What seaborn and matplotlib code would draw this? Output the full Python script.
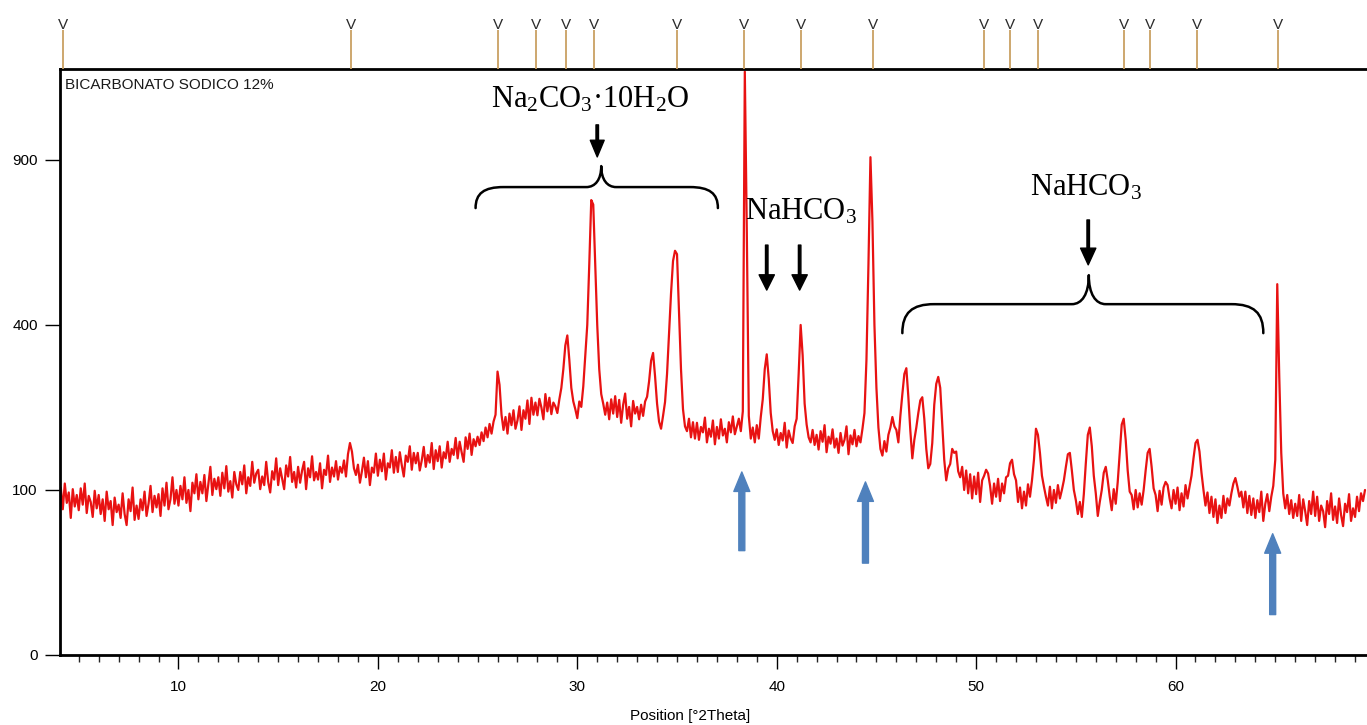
import numpy as np
import pandas as pd
import matplotlib
matplotlib.use("Agg")
import matplotlib.pyplot as plt
import seaborn as sns
from matplotlib.path import Path
from matplotlib.patches import PathPatch, FancyArrowPatch
from matplotlib.transforms import IdentityTransform
from matplotlib.ticker import MultipleLocator, FixedLocator

sns.set_style("white")
plt.rcParams['font.family'] = ['Liberation Sans', 'DejaVu Sans']
plt.rcParams['mathtext.fontset'] = 'custom'
plt.rcParams['mathtext.rm'] = 'Liberation Serif'
plt.rcParams['mathtext.it'] = 'Liberation Serif:italic'
plt.rcParams['mathtext.bf'] = 'Liberation Serif:bold'

# ---------------- data ----------------
theta_first, theta_last = 4.1, 69.5          # 0.1 deg sampling

counts_04_20 = [
    103, 78, 108, 85, 97, 69, 101, 81, 94,
    77, 102, 83, 108, 74, 93, 86, 70, 99, 79,
    94, 73, 89, 66, 98, 78, 87, 62, 91, 75,
    83, 69, 96, 73, 62, 89, 76, 103, 67, 82,
    68, 89, 77, 98, 71, 84, 105, 75, 93, 80,
    95, 71, 102, 82, 109, 78, 89, 116, 84, 100,
    82, 105, 89, 116, 85, 100, 76, 109, 96, 120,
    89, 110, 96, 119, 87, 107, 130, 94, 114, 101,
    116, 93, 122, 102, 131, 98, 111, 91, 123, 107,
    100, 123, 107, 132, 96, 116, 105, 137, 109, 121,
    126, 101, 117, 106, 137, 110, 97, 124, 113, 142,
    106, 128, 114, 101, 132, 117, 144, 110, 123, 103,
    130, 109, 125, 137, 101, 128, 116, 145, 112, 123,
    113, 135, 102, 126, 119, 146, 110, 129, 117, 138,
    113, 130, 122, 139, 117, 148, 165, 152, 128, 119,
    133, 109, 124, 143, 116, 138, 106, 129, 122, 149,
]
counts_20_40 = [
    118, 140, 124, 149, 113, 135, 129, 154, 122, 144,
    123, 151, 132, 117, 146, 137, 160, 126, 150, 135,
    150, 125, 139, 159, 130, 147, 136, 165, 127, 154,
    138, 160, 129, 151, 142, 167, 137, 156, 147, 173,
    142, 167, 151, 137, 174, 156, 180, 147, 171, 160,
    175, 162, 182, 168, 190, 174, 196, 180, 200, 212,
    295, 268, 212, 186, 208, 180, 214, 194, 220, 188,
    202, 227, 186, 220, 205, 238, 196, 243, 212, 234,
    211, 241, 225, 204, 250, 218, 243, 213, 234, 227,
    215, 240, 262, 300, 352, 375, 320, 262, 236, 222,
    206, 236, 226, 265, 330, 400, 560, 760, 745, 560,
    400, 300, 250, 232, 212, 234, 204, 240, 214, 246,
    208, 239, 198, 230, 251, 205, 226, 192, 237, 214,
    226, 204, 230, 210, 236, 245, 275, 318, 335, 285,
    232, 200, 188, 210, 235, 290, 380, 480, 570, 600,
    590, 430, 300, 222, 192, 184, 205, 174, 199, 172,
    198, 170, 191, 182, 207, 166, 188, 175, 202, 163,
    191, 172, 204, 177, 188, 166, 199, 182, 209, 179,
    192, 205, 184, 218, 1250, 660, 210, 172, 190, 166,
    194, 172, 208, 240, 300, 332, 280, 215, 184, 170,
]
counts_40_55 = [
    187, 162, 181, 169, 198, 158, 185, 172, 165, 192,
    205, 290, 400, 330, 232, 195, 174, 166, 186, 162,
    178, 155, 184, 167, 194, 151, 175, 164, 187, 158,
    172, 150, 181, 161, 170, 192, 148, 177, 163, 186,
    160, 176, 166, 188, 215, 320, 560, 910, 690, 400,
    262, 190, 156, 146, 168, 152, 178, 190, 208, 192,
    186, 166, 210, 250, 290, 302, 245, 185, 142, 170,
    190, 215, 238, 244, 205, 156, 128, 134, 165, 230,
    270, 284, 262, 195, 140, 112, 128, 134, 156, 150,
    152, 124, 116, 130, 100, 125, 96, 120, 90, 117,
    95, 122, 86, 112, 118, 126, 121, 105, 84, 108,
    92, 114, 87, 108, 96, 116, 118, 135, 140, 120,
    112, 86, 103, 79, 98, 82, 107, 92, 112, 140,
    188, 178, 150, 118, 104, 92, 82, 104, 79, 100,
    85, 106, 90, 100, 112, 130, 148, 150, 125, 100,
]
counts_55_70 = [
    88, 73, 86, 70, 95, 135, 178, 190, 160, 118,
    96, 71, 86, 100, 122, 130, 112, 92, 77, 101,
    84, 110, 150, 195, 205, 170, 125, 98, 94, 78,
    100, 80, 96, 83, 100, 125, 150, 156, 130, 102,
    94, 76, 99, 83, 103, 110, 106, 90, 79, 100,
    84, 103, 77, 96, 81, 106, 90, 104, 118, 142,
    165, 170, 152, 122, 100, 82, 97, 74, 92, 70,
    89, 64, 82, 69, 93, 74, 90, 82, 96, 108,
    115, 104, 92, 98, 80, 98, 74, 93, 72, 90,
    69, 88, 75, 98, 66, 84, 95, 76, 92, 105,
    140, 505, 285, 150, 96, 79, 94, 73, 88, 69,
    84, 71, 94, 66, 89, 76, 62, 87, 73, 98,
    71, 92, 66, 82, 76, 60, 87, 73, 96, 67,
    81, 64, 90, 72, 61, 84, 75, 95, 66, 79,
    70, 92, 76, 96, 87, 100,
]

# reference-pattern marker positions (top strip)
ref_positions = [4.21, 18.65, 26.02, 27.92, 29.42, 30.83, 34.99, 38.35, 41.20,
                 44.81, 50.37, 51.68, 53.08, 57.39, 58.74, 61.08, 65.14]

y_ticks = [0, 100, 400, 900]
x_label = "Position [°2Theta]"
sample_label = "BICARBONATO SODICO 12%"
label_hydrate = "Na$_2$CO$_3$·10H$_2$O"
label_bicarb = "NaHCO$_3$"

counts = np.array(counts_04_20 + counts_20_40 + counts_40_55 + counts_55_70, dtype=float)
two_theta = np.linspace(theta_first, theta_last, len(counts))
df = pd.DataFrame({"two_theta": two_theta, "counts": counts})

# ---------------- figure ----------------
W, H = 1367, 725
fig = plt.figure(figsize=(W / 100, H / 100), dpi=100)
fig.patch.set_facecolor("white")

ax_left, ax_right, ax_top_px, ax_bot_px = 60, 1367, 69, 655
ax = fig.add_axes([ax_left / W, (H - ax_bot_px) / H, (ax_right - ax_left) / W,
                   (ax_bot_px - ax_top_px) / H])

sns.lineplot(data=df, x="two_theta", y="counts", ax=ax, color="#e81212",
             linewidth=1.6, estimator=None, sort=False)

ax.set_yscale("function", functions=(lambda v: np.sqrt(np.clip(v, 0, None)),
                                     lambda v: np.square(v)))
ax.set_xlim(4.06, 69.6)
ax.set_ylim(0, 1261)
ax.yaxis.set_major_locator(FixedLocator(y_ticks))
ax.yaxis.set_minor_locator(FixedLocator([]))
ax.set_yticklabels([str(t) for t in y_ticks])
ax.xaxis.set_major_locator(MultipleLocator(10))
ax.xaxis.set_minor_locator(MultipleLocator(1))
ax.set_xlabel("")
ax.set_ylabel("")

for side in ["left", "top", "bottom"]:
    ax.spines[side].set_visible(True)
    ax.spines[side].set_color("black")
    ax.spines[side].set_linewidth(2.0)
ax.spines["right"].set_visible(False)

ax.tick_params(axis="x", which="major", direction="out", length=10, width=1.0,
               pad=8, labelsize=11, colors="black", bottom=True)
ax.tick_params(axis="x", which="minor", direction="out", length=5, width=1.0,
               bottom=True)
ax.tick_params(axis="y", which="major", direction="out", length=11, width=1.0,
               pad=5, labelsize=11, colors="black", left=True)

fig.text(690 / W, 1 - 716 / H, x_label, ha="center", va="center", fontsize=11,
         color="black")
ax.text(0.004, 0.985, sample_label, transform=ax.transAxes, ha="left", va="top",
        fontsize=11, color="#1a1a1a")

# ---------------- top strip with reference-pattern lines ----------------
ax_strip = fig.add_axes([ax_left / W, (H - ax_top_px) / H, (ax_right - ax_left) / W,
                         ax_top_px / H])
ax_strip.set_xlim(ax.get_xlim())
ax_strip.set_ylim(0, ax_top_px)
ax_strip.axis("off")
ax_strip.vlines(ref_positions, 0, ax_top_px - 30, color="#c9a062", linewidth=1.3)
for p in ref_positions:
    ax_strip.text(p, ax_top_px - 32, "V", ha="center", va="bottom", fontsize=11,
                  color="#2a2a2a", family=["Liberation Sans Narrow", "Liberation Sans"])

# ---------------- annotations ----------------
def brace(x0, x1, xm, y_line, drop, rise, r_end, r_tip, lw=1.8):
    tr = ax.transData.transform
    px0, py = tr((x0, y_line))
    px1 = tr((x1, y_line))[0]
    pxm = tr((xm, y_line))[0]
    verts = [
        (px0, py - drop),
        (px0, py - drop * 0.3), (px0 + r_end * 0.3, py), (px0 + r_end, py),
        (pxm - r_tip, py),
        (pxm - r_tip * 0.4, py), (pxm, py + rise * 0.35), (pxm, py + rise),
        (pxm, py + rise * 0.35), (pxm + r_tip * 0.4, py), (pxm + r_tip, py),
        (px1 - r_end, py),
        (px1 - r_end * 0.3, py), (px1, py - drop * 0.3), (px1, py - drop),
    ]
    codes = [Path.MOVETO, Path.CURVE4, Path.CURVE4, Path.CURVE4, Path.LINETO,
             Path.CURVE4, Path.CURVE4, Path.CURVE4, Path.CURVE4, Path.CURVE4,
             Path.CURVE4, Path.LINETO, Path.CURVE4, Path.CURVE4, Path.CURVE4]
    patch = PathPatch(Path(verts, codes), transform=IdentityTransform(),
                      fill=False, edgecolor="black", linewidth=lw,
                      capstyle="round", joinstyle="round")
    fig.add_artist(patch)


def arrow(x, y_from, y_to, color, tail_w, head_w, head_l):
    a = FancyArrowPatch((x, y_from), (x, y_to), transform=ax.transData,
                        arrowstyle=f"simple,head_length={head_l},head_width={head_w},tail_width={tail_w}",
                        mutation_scale=1, color=color, shrinkA=0, shrinkB=0,
                        clip_on=False, zorder=5)
    ax.add_patch(a)


# braces
brace(24.9, 37.05, 31.2, 804, 21, 21, 28, 15)
brace(46.3, 64.4, 55.65, 452, 29, 29, 32, 17)

# black arrows
arrow(31.0, 1032, 911, "black", 1.8, 10, 12)
arrow(39.5, 617, 489, "black", 1.8, 11, 11)
arrow(41.15, 617, 489, "black", 1.8, 11, 11)
arrow(55.62, 695, 559, "black", 1.8, 11, 12)

# blue arrows
arrow(38.25, 40, 123, "#4f81bd", 4.3, 11.5, 14)
arrow(44.45, 31, 110, "#4f81bd", 4.3, 11.5, 14)
arrow(64.87, 6, 54, "#4f81bd", 4.3, 11.5, 14)

# labels
ax.text(30.65, 1131, label_hydrate, ha="center", va="center", fontsize=22,
        family="Liberation Serif", color="black")
ax.text(41.2, 721, label_bicarb, ha="center", va="center", fontsize=22,
        family="Liberation Serif", color="black")
ax.text(55.5, 801, label_bicarb, ha="center", va="center", fontsize=22,
        family="Liberation Serif", color="black")

fig.savefig("out.png", dpi=100, facecolor="white")
